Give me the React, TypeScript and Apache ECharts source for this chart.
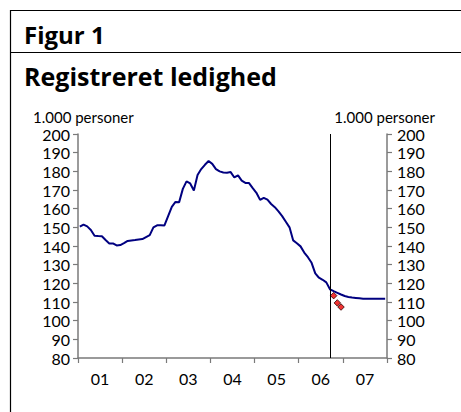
import React, { useEffect, useRef } from "react";
import * as echarts from "echarts";

const years = ["01", "02", "03", "04", "05", "06", "07"];
const yTicks = [80, 200, 10];
// monthly registered unemployment, 1.000 persons, Jan 2001 - Dec 2007
const ledighed = [
  150.4, 151.5, 150.5, 148.6, 145.5, 145.3, 145.2, 143.2, 141.4, 141.4, 140.3, 140.5,
  141.5, 142.7, 143.0, 143.2, 143.5, 143.7, 144.8, 145.8, 150.0, 151.1, 151.1, 151.0,
  156.0, 161.0, 163.6, 163.5, 170.6, 174.6, 173.5, 169.7, 178.0, 181.2, 183.5, 185.5,
  184.0, 181.2, 180.0, 179.4, 179.3, 179.6, 176.7, 177.8, 175.0, 173.8, 173.7, 171.0,
  168.5, 164.7, 165.8, 164.8, 162.5, 160.8, 158.5, 156.0, 153.0, 150.0, 143.0, 141.5,
  139.8, 136.5, 134.0, 131.0, 125.3, 123.0, 121.9, 120.5, 116.8, 115.8, 114.9, 114.0,
  113.2, 112.7, 112.4, 112.2, 112.0, 111.8, 111.8, 111.8, 111.8, 111.8, 111.8, 111.8,
];
const diamondMonths = [69, 70, 71];
const diamondValues = [113.4, 109.5, 107.3];
const cutMonth = 68;

export default function App() {
  const ref = useRef<HTMLDivElement>(null);
  useEffect(() => {
    if (!ref.current) return;
    const chart = echarts.init(ref.current, null, { renderer: "svg" });
    const font = "Lato, 'Noto Sans', sans-serif";
    const titleFont = "'Open Sans', 'Noto Sans', sans-serif";
    const axisColor = "#7a7a7a";
    const yAxisBase = {
      type: "value" as const,
      min: yTicks[0],
      max: yTicks[1],
      interval: yTicks[2],
      splitLine: { show: false },
      axisLine: { show: true, lineStyle: { color: axisColor, width: 1.5 } },
      axisTick: { show: true, length: 5, lineStyle: { color: axisColor, width: 1.2 } },
    };
    chart.setOption({
      animation: false,
      textStyle: { fontFamily: font },
      grid: { left: 78, right: 74, top: 134, bottom: 54 },
      xAxis: [
        {
          type: "value",
          min: 0,
          max: 84,
          interval: 12,
          axisLine: { show: true, lineStyle: { color: axisColor, width: 1.5 } },
          axisTick: { show: true, length: 5, lineStyle: { color: axisColor, width: 1.2 } },
          axisLabel: { show: false },
          splitLine: { show: false },
        },
        {
          type: "category",
          position: "bottom",
          data: years,
          boundaryGap: true,
          axisLine: { show: false },
          axisTick: { show: false },
          axisLabel: { color: "#000", fontSize: 16, margin: 12, fontFamily: font },
        },
      ],
      yAxis: [
        {
          ...yAxisBase,
          position: "left",
          axisLabel: { color: "#000", fontSize: 16, margin: 8, fontFamily: font },
        },
        {
          ...yAxisBase,
          position: "right",
          axisLabel: { color: "#000", fontSize: 16, margin: 10, fontFamily: font },
        },
      ],
      series: [
        {
          type: "line",
          xAxisIndex: 0,
          yAxisIndex: 0,
          data: ledighed.map((v, i) => [i + 0.5, v]),
          showSymbol: false,
          lineStyle: { color: "#000080", width: 2 },
          markLine: {
            silent: true,
            symbol: "none",
            label: { show: false },
            lineStyle: { color: "#000", width: 1, type: "solid" },
            data: [{ xAxis: cutMonth + 0.5 }],
          },
        },
        {
          type: "scatter",
          xAxisIndex: 0,
          yAxisIndex: 0,
          data: diamondMonths.map((m, i) => [m + 0.5, diamondValues[i]]),
          symbol: "diamond",
          symbolSize: 6.5,
          itemStyle: { color: "#ee0000", borderColor: "#300000", borderWidth: 1 },
        },
      ],
      graphic: [
        { type: "line", shape: { x1: 10, y1: 10.5, x2: 461, y2: 10.5 }, style: { stroke: "#000", lineWidth: 1.2 } },
        { type: "line", shape: { x1: 10.5, y1: 10, x2: 10.5, y2: 412 }, style: { stroke: "#000", lineWidth: 1.2 } },
        { type: "line", shape: { x1: 10, y1: 52.5, x2: 461, y2: 52.5 }, style: { stroke: "#000", lineWidth: 1.2 } },
        {
          type: "text",
          left: 24,
          top: 22,
          style: { text: "Figur 1", fontSize: 24, fontWeight: "bold", fontFamily: titleFont, fill: "#000" },
        },
        {
          type: "text",
          left: 24,
          top: 63,
          style: { text: "Registreret ledighed", fontSize: 25, fontWeight: "bold", fontFamily: titleFont, fill: "#000" },
        },
        {
          type: "text",
          left: 33,
          top: 109,
          style: { text: "1.000 personer", fontSize: 15, fontFamily: font, fill: "#000" },
        },
        {
          type: "text",
          right: 26,
          top: 109,
          style: { text: "1.000 personer", fontSize: 15, fontFamily: font, fill: "#000" },
        },
      ],
    });
    return () => chart.dispose();
  }, []);
  return (
    <div
      ref={ref}
      style={{ position: "absolute", left: 0, top: 0, width: 461, height: 412, background: "#fff" }}
    />
  );
}
